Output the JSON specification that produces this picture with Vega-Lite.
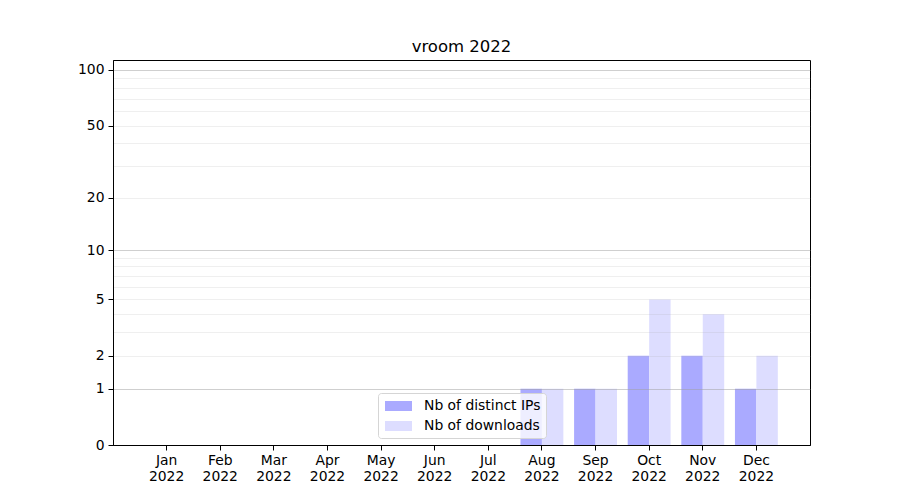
{
  "$schema": "https://vega.github.io/schema/vega-lite/v6.json",
  "width": 697,
  "height": 385,
  "autosize": {"type": "none"},
  "padding": {"left": 113, "top": 60, "right": 90, "bottom": 55},
  "background": "white",
  "title": {"text": "vroom 2022", "fontSize": 16.5, "fontWeight": "normal", "font": "DejaVu Sans", "color": "black", "offset": 5},
  "config": {
    "font": "DejaVu Sans",
    "view": {"stroke": "black", "strokeWidth": 1}
  },
  "data": {
    "values": [
      {"month": "Jan 2022", "series": "Nb of distinct IPs", "value": 0},
      {"month": "Jan 2022", "series": "Nb of downloads", "value": 0},
      {"month": "Feb 2022", "series": "Nb of distinct IPs", "value": 0},
      {"month": "Feb 2022", "series": "Nb of downloads", "value": 0},
      {"month": "Mar 2022", "series": "Nb of distinct IPs", "value": 0},
      {"month": "Mar 2022", "series": "Nb of downloads", "value": 0},
      {"month": "Apr 2022", "series": "Nb of distinct IPs", "value": 0},
      {"month": "Apr 2022", "series": "Nb of downloads", "value": 0},
      {"month": "May 2022", "series": "Nb of distinct IPs", "value": 0},
      {"month": "May 2022", "series": "Nb of downloads", "value": 0},
      {"month": "Jun 2022", "series": "Nb of distinct IPs", "value": 0},
      {"month": "Jun 2022", "series": "Nb of downloads", "value": 0},
      {"month": "Jul 2022", "series": "Nb of distinct IPs", "value": 0},
      {"month": "Jul 2022", "series": "Nb of downloads", "value": 0},
      {"month": "Aug 2022", "series": "Nb of distinct IPs", "value": 1},
      {"month": "Aug 2022", "series": "Nb of downloads", "value": 1},
      {"month": "Sep 2022", "series": "Nb of distinct IPs", "value": 1},
      {"month": "Sep 2022", "series": "Nb of downloads", "value": 1},
      {"month": "Oct 2022", "series": "Nb of distinct IPs", "value": 2},
      {"month": "Oct 2022", "series": "Nb of downloads", "value": 5},
      {"month": "Nov 2022", "series": "Nb of distinct IPs", "value": 2},
      {"month": "Nov 2022", "series": "Nb of downloads", "value": 4},
      {"month": "Dec 2022", "series": "Nb of distinct IPs", "value": 1},
      {"month": "Dec 2022", "series": "Nb of downloads", "value": 2}
    ]
  },
  "mark": {"type": "bar"},
  "encoding": {
    "x": {
      "field": "month",
      "type": "nominal",
      "sort": null,
      "title": null,
      "scale": {"paddingInner": 0.2, "paddingOuter": 0.6},
      "axis": {
        "labelAngle": 0,
        "labelExpr": "split(datum.label, ' ')",
        "labelFontSize": 13.9,
        "labelColor": "black",
        "labelLineHeight": 16,
        "labelPadding": 3,
        "tickColor": "black",
        "tickSize": 5,
        "domainColor": "black",
        "grid": false
      }
    },
    "xOffset": {"field": "series", "type": "nominal", "sort": ["Nb of distinct IPs", "Nb of downloads"]},
    "y": {
      "field": "value",
      "type": "quantitative",
      "title": null,
      "scale": {"type": "symlog", "constant": 1, "domain": [0, 113.2], "nice": false},
      "axis": {
        "values": [0, 1, 2, 3, 4, 5, 6, 7, 8, 9, 10, 20, 30, 40, 50, 60, 70, 80, 90, 100],
        "labelExpr": "indexof([0,1,2,5,10,20,50,100], datum.value) >= 0 ? datum.label : ''",
        "format": "d",
        "labelFontSize": 13.9,
        "labelColor": "black",
        "labelPadding": 4,
        "tickColor": "black",
        "tickSize": 5,
        "tickOpacity": {"condition": {"test": "indexof([0,1,2,5,10,20,50,100], datum.value) >= 0", "value": 1}, "value": 0},
        "domainColor": "black",
        "grid": true,
        "gridColor": {"condition": {"test": "datum.value === 1 || datum.value === 10 || datum.value === 100", "value": "rgba(160,160,160,0.5)"}, "value": "rgba(176,176,176,0.2)"},
        "gridOpacity": {"condition": {"test": "datum.value === 0", "value": 0}, "value": 1},
        "zindex": 1
      }
    },
    "color": {
      "field": "series",
      "type": "nominal",
      "sort": ["Nb of distinct IPs", "Nb of downloads"],
      "scale": {"domain": ["Nb of distinct IPs", "Nb of downloads"], "range": ["#aaaaff", "#ddddff"]},
      "legend": {
        "title": null,
        "orient": "none",
        "legendX": 265,
        "legendY": 333,
        "symbolType": "M-1.69,-0.625L1.69,-0.625L1.69,0.625L-1.69,0.625Z",
        "symbolSize": 256,
        "symbolStrokeWidth": 0,
        "symbolOpacity": 1,
        "symbolOffset": 7.5,
        "labelFontSize": 13.9,
        "labelColor": "black",
        "labelOffset": 17.5,
        "rowPadding": 5,
        "padding": 5,
        "fillColor": "rgba(255,255,255,0.8)",
        "strokeColor": "#d5d5d5",
        "cornerRadius": 3
      }
    }
  }
}
